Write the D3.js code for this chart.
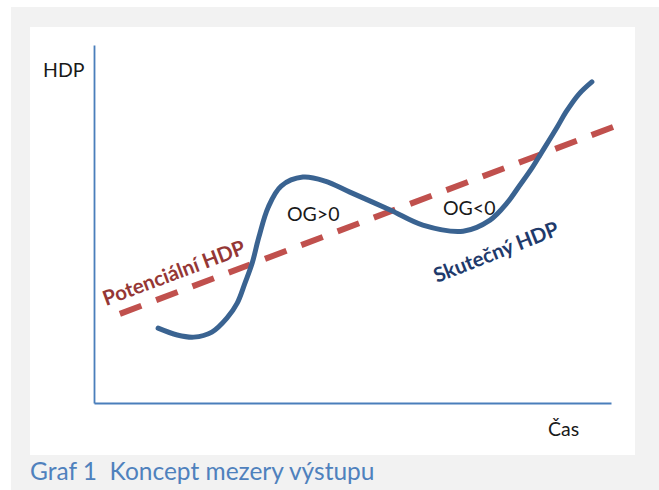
<!DOCTYPE html>
<html lang="cs">
<head>
<meta charset="utf-8">
<title>Koncept mezery výstupu</title>
<script src="https://cdn.jsdelivr.net/npm/d3@7/dist/d3.min.js"></script>
<style>
  html, body { margin: 0; padding: 0; background: #ffffff; }
  svg { display: block; font-family: Lato, "Open Sans", sans-serif; }
  .caption { white-space: pre; }
</style>
</head>
<body>
<svg id="chart" width="659" height="490"></svg>
<script>
// Time axis (arbitrary units 0–100) and GDP level (arbitrary units 0–100)
const timePoints = [12.4, 16.1, 19.3, 22.8, 25.7, 27.7, 29.2, 30.6, 31.9, 33.7, 36.2, 40.4, 44.7,
                    49.5, 57.3, 63.6, 71.4, 76.6, 79.9, 82.4, 84.7, 86.5, 89.6, 91.3, 93.8, 96.3];
const actualGdp  = [20.9, 19.0, 18.4, 19.8, 23.7, 27.9, 33.5, 39.1, 46.4, 54.7, 60.6, 63.1, 62.0,
                    58.9, 53.9, 49.7, 48.0, 51.1, 55.9, 60.9, 65.6, 69.8, 77.1, 81.3, 86.3, 89.7];

// Potential GDP: a straight trend line
const potentialTime = [5.0, 100.4];
const potentialGdp  = [24.9, 77.1];

// Texts
const axisLabels = { y: "HDP", x: "Čas" };
const gapLabels = ["OG>0", "OG<0"];
const seriesLabels = ["Potenciální HDP", "Skutečný HDP"];
const captionText = "Graf 1  Koncept mezery výstupu";

const svg = d3.select("#chart");

// Frame: grey page band with a white chart panel
svg.append("rect").attr("x", 11).attr("y", 7).attr("width", 648).attr("height", 483)
   .attr("fill", "#f2f2f2");
svg.append("rect").attr("x", 30).attr("y", 27).attr("width", 605).attr("height", 428)
   .attr("fill", "#ffffff");

const x = d3.scaleLinear().domain([0, 100]).range([94, 611]);
const y = d3.scaleLinear().domain([0, 100]).range([403, 45]);

// Axes: plain lines without ticks
const axisColor = "#4a7ebb";
const xAxis = d3.axisBottom(x).tickValues([]).tickSizeOuter(0);
const yAxis = d3.axisLeft(y).tickValues([]).tickSizeOuter(0);
svg.append("g").attr("transform", `translate(0,${y(0)})`).call(xAxis)
   .select(".domain").attr("stroke", axisColor).attr("stroke-width", 1.8);
svg.append("g").attr("transform", `translate(${x(0)},0)`).call(yAxis)
   .select(".domain").attr("stroke", axisColor).attr("stroke-width", 1.8);

// Potential GDP (dashed trend)
const potential = potentialTime.map((t, i) => [t, potentialGdp[i]]);
svg.append("path")
   .datum(potential)
   .attr("d", d3.line().x(d => x(d[0])).y(d => y(d[1])))
   .attr("fill", "none")
   .attr("stroke", "#c0504d")
   .attr("stroke-width", 6)
   .attr("stroke-dasharray", "23,15.8");

// Actual GDP (smooth cycle)
const actual = timePoints.map((t, i) => [t, actualGdp[i]]);
svg.append("path")
   .datum(actual)
   .attr("d", d3.line().x(d => x(d[0])).y(d => y(d[1])).curve(d3.curveCatmullRom.alpha(0.5)))
   .attr("fill", "none")
   .attr("stroke", "#3a6391")
   .attr("stroke-width", 5)
   .attr("stroke-linecap", "round")
   .attr("stroke-linejoin", "round");

// Axis titles
svg.append("text").attr("x", 43).attr("y", 77)
   .attr("font-size", 19.5).attr("fill", "#1a1a1a").text(axisLabels.y);
svg.append("text").attr("x", 548).attr("y", 436)
   .attr("font-size", 19.5).attr("fill", "#1a1a1a").text(axisLabels.x);

// Output gap labels
svg.append("text").attr("x", 287).attr("y", 221)
   .attr("font-size", 19.5).attr("fill", "#1a1a1a").text(gapLabels[0]);
svg.append("text").attr("x", 443).attr("y", 215)
   .attr("font-size", 19.5).attr("fill", "#1a1a1a").text(gapLabels[1]);

// Series labels, slanted along the trend
svg.append("text").attr("transform", "translate(106,306) rotate(-20.5)")
   .attr("font-size", 20.5).attr("font-weight", 700).attr("fill", "#953735")
   .text(seriesLabels[0]);
svg.append("text").attr("transform", "translate(437,283) rotate(-21.5)")
   .attr("font-size", 20.5).attr("font-weight", 700).attr("fill", "#1f3a6b")
   .text(seriesLabels[1]);

// Caption
svg.append("text").attr("class", "caption").attr("x", 30).attr("y", 480)
   .attr("font-size", 24.5).attr("fill", "#4f81bd").text(captionText);
</script>
</body>
</html>
